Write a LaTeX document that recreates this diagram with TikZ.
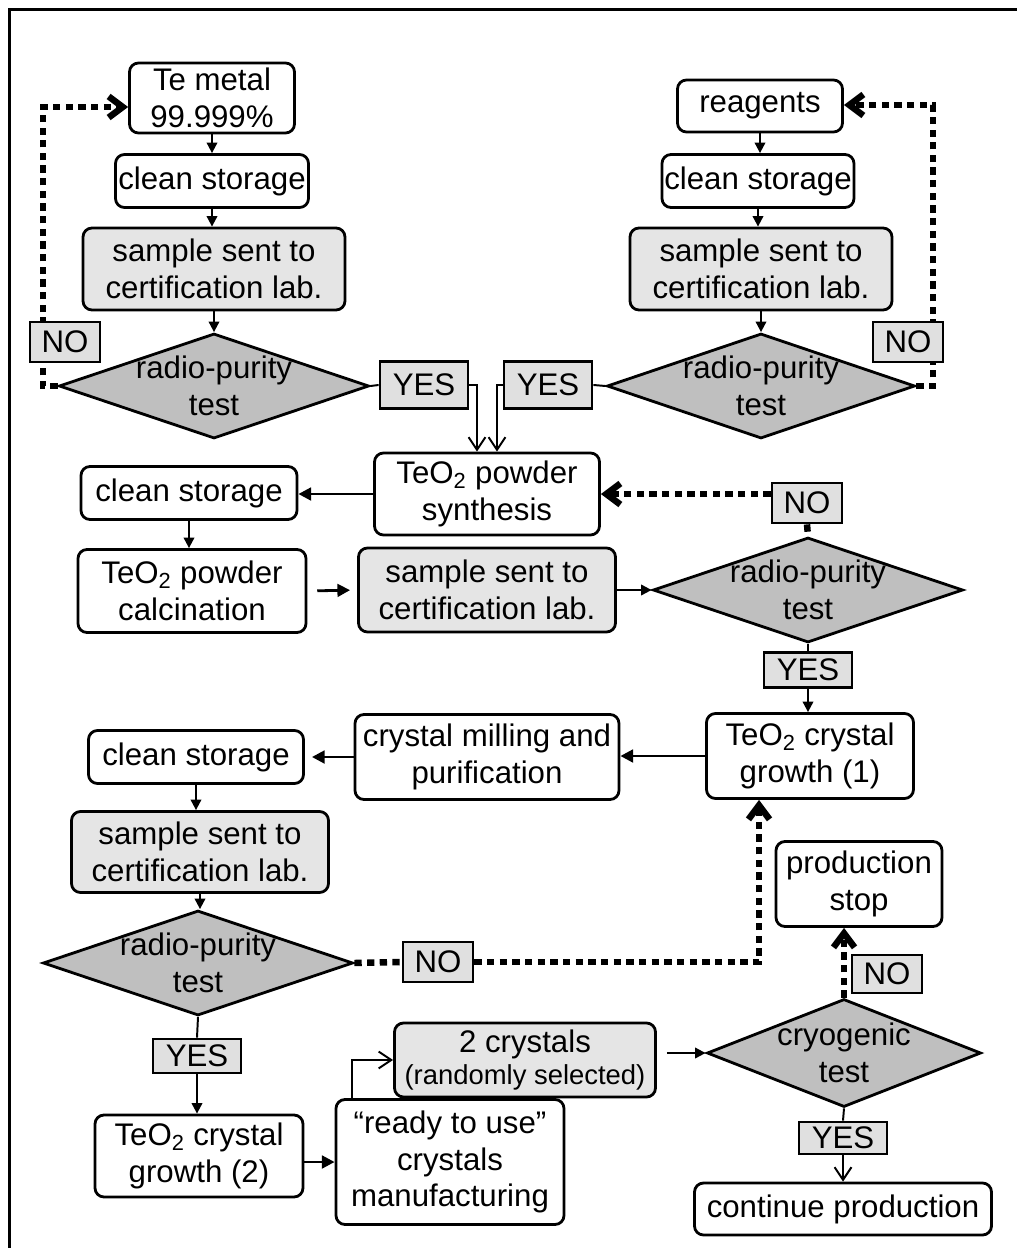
\documentclass[tikz,border=0pt]{standalone}
\usepackage{fontspec}
\setmainfont{Liberation Sans}
\usetikzlibrary{shapes.geometric,arrows.meta}
\pgfdeclarelayer{bg}
\pgfsetlayers{bg,main}
\newdimen\pxlen
\pxlen=0.025cm

\begin{document}
\begin{tikzpicture}[x=0.025cm,y=-0.025cm,font=\fontsize{22.2}{26.2}\selectfont]
    \tikzstyle{proc}=[draw,line width=2pt,rounded corners=9\pxlen,fill=white,align=center,inner sep=0pt]
    \tikzstyle{samp}=[proc,fill=black!10]
    \tikzstyle{check}=[diamond,draw,line width=2pt,fill=black!25,inner sep=0pt,minimum width=310\pxlen,minimum height=105\pxlen]
    \tikzstyle{tag}=[draw,line width=2pt,fill=black!12,inner sep=0pt,minimum width=88\pxlen,minimum height=40\pxlen]
    \tikzstyle{arr}=[line width=1.4pt,-{Triangle[length=7.5pt,width=7.5pt]}]
    \tikzstyle{bigarr}=[line width=2pt,-{Triangle[length=9pt,width=9pt]}]
    \tikzstyle{barb}=[line width=1.4pt,-{Straight Barb[length=9pt,width=12pt]}]
    \tikzstyle{dots}=[line width=4.6pt,dash pattern=on 5.2pt off 3.8pt]
    \tikzstyle{back}=[dots,-{Straight Barb[length=10pt,width=15pt]}]

    \useasboundingbox (0,0) rectangle (1017,1248);
    \draw[line width=2pt] (1040,9.5) -- (9.5,9.5) -- (9.5,1270);

    % Te metal column
    \node[proc,minimum width=165\pxlen,minimum height=70\pxlen] (T-1) at (212,98) {Te metal\\99.999\%};
    \node[proc,minimum width=193\pxlen,minimum height=53\pxlen] (T-2) at (212,181) {clean storage};
    \node[samp,minimum width=262\pxlen,minimum height=82\pxlen] (T-3) at (214,269) {sample sent to\\certification lab.};
    \node[check] (T-4) at (214,386) {};
    \node[align=center] (T-4t) at (T-4) {radio-purity\\test};

    % reagents column
    \node[proc,minimum width=165\pxlen,minimum height=52\pxlen] (R-1) at (760,106) {reagents};
    \node[proc,minimum width=192\pxlen,minimum height=53\pxlen] (R-2) at (758,181) {clean storage};
    \node[samp,minimum width=262\pxlen,minimum height=82\pxlen] (R-3) at (761,269) {sample sent to\\certification lab.};
    \node[check,minimum width=308\pxlen] (R-4) at (761,386) {};
    \node[align=center] (R-4t) at (R-4) {radio-purity\\test};

    % answers of the first tests
    \node[tag,minimum width=70\pxlen] (N-1) at (65,342) {NO};
    \node[tag,minimum width=70\pxlen] (N-2) at (908,342) {NO};
    \node[tag,minimum height=47\pxlen] (Y-1) at (424,385) {YES};
    \node[tag,minimum height=47\pxlen] (Y-2) at (548,385) {YES};

    % powder nodes
    \node[proc,minimum width=225\pxlen,minimum height=82\pxlen] (P-1) at (487,494) {TeO\textsubscript{2} powder\\synthesis};
    \node[proc,minimum width=216\pxlen,minimum height=53\pxlen] (P-2) at (189,493) {clean storage};
    \node[proc,minimum width=228\pxlen,minimum height=83\pxlen] (P-3) at (192,591) {TeO\textsubscript{2} powder\\calcination};
    \node[samp,minimum width=257\pxlen,minimum height=84\pxlen] (P-4) at (487,590) {sample sent to\\certification lab.};
    \node[check] (P-5) at (808,590) {};
    \node[align=center] (P-5t) at (P-5) {radio-purity\\test};
    \node[tag,minimum width=70\pxlen] (N-3) at (807,503) {NO};
    \node[tag,minimum height=35\pxlen] (Y-3) at (808,670) {YES};

    % crystal nodes
    \node[proc,minimum width=207\pxlen,minimum height=85\pxlen] (C-1) at (810,756) {TeO\textsubscript{2} crystal\\growth (1)};
    \node[proc,minimum width=264\pxlen,minimum height=85\pxlen] (C-2) at (487,757) {crystal milling and\\purification};
    \node[proc,minimum width=215\pxlen,minimum height=53\pxlen] (C-3) at (196,757) {clean storage};
    \node[samp,minimum width=257\pxlen,minimum height=81\pxlen] (C-4) at (200,852) {sample sent to\\certification lab.};
    \node[check] (C-5) at (198,963) {};
    \node[align=center] (C-5t) at (C-5) {radio-purity\\test};
    \node[tag,minimum width=70\pxlen] (N-4) at (438,962) {NO};
    \node[tag,minimum height=34\pxlen] (Y-4) at (197,1056) {YES};
    \node[proc,minimum width=208\pxlen,minimum height=82\pxlen] (C-6) at (199,1156) {TeO\textsubscript{2} crystal\\growth (2)};
    \node[proc,minimum width=228\pxlen,minimum height=125\pxlen] (C-7) at (450,1162) {“ready to use”\\crystals\\manufacturing};
    \node[samp,minimum width=261\pxlen,minimum height=74\pxlen] (C-8) at (525,1060) {2 crystals\\[-3pt]{\fontsize{19.5}{22}\selectfont(randomly selected)}};
    \node[check,minimum width=274\pxlen,minimum height=108\pxlen] (C-9) at (844,1053) {};
    \node[align=center] (C-9t) at (C-9) {cryogenic\\test};
    \node[proc,minimum width=166\pxlen,minimum height=85\pxlen] (C-10) at (859,884) {production\\stop};
    \node[tag,minimum width=70\pxlen,minimum height=38\pxlen] (N-5) at (887,974) {NO};
    \node[tag,minimum height=32\pxlen] (Y-5) at (843,1138) {YES};
    \node[proc,minimum width=297\pxlen,minimum height=52\pxlen] (C-11) at (843,1209) {continue production};

    \begin{pgfonlayer}{bg}
    % arrows down the columns
    \foreach \a/\b in {T-1/T-2,T-2/T-3,T-3/T-4,R-1/R-2,R-2/R-3,R-3/R-4,P-2/P-3,C-3/C-4,C-4/C-5}
    \draw[arr] (\a.south) -- (\a.south |- \b.north);

    % YES answers of the first tests
    \draw[line width=1.4pt] (T-4.east) -- (Y-1.west);
    \draw[line width=1.4pt] (R-4.west) -- (Y-2.east);
    \draw[barb] (Y-1.east) -| ([xshift=-10\pxlen]P-1.north);
    \draw[barb] (Y-2.west) -| ([xshift=10\pxlen]P-1.north);

    % NO answers back to the raw materials
    \coordinate (T-back) at (43,107);
    \coordinate (R-back) at (933,105);
    \draw[back] (T-4.west) -| (T-back) -- (T-1.west |- T-back);
    \draw[back] (R-4.east) -| (R-back) -- (R-1.east |- R-back);

    % powder synthesis and certification
    \draw[bigarr] (P-1.west) -- (P-1.west -| P-2.east);
    \draw[back] (N-3.west |- P-1.east) -- (P-1.east);
    \draw[dots] (N-3.south) -- (P-5.north);
    \draw[bigarr,shorten <=7pt,shorten >=5pt] (P-3.east) -- (P-4.west);
    \draw[arr] (P-4.east) -- (P-5.west);
    \draw[line width=1.4pt] (P-5.south) -- (Y-3.north);
    \draw[arr] (Y-3.south) -- (Y-3.south |- C-1.north);

    % crystal growth, milling and tests
    \draw[bigarr] (C-1.west) -- (C-1.west -| C-2.east);
    \draw[bigarr,shorten >=5pt] (C-2.west) -- (C-2.west -| C-3.east);
    \draw[dots] (C-5.east) -- (N-4.west);
    \draw[back] (N-4.east) -| ([xshift=-51\pxlen]C-1.south);
    \draw[line width=1.4pt] (C-5.south) -- (Y-4.north);
    \draw[arr] (Y-4.south) -- (Y-4.south |- C-6.north);
    \draw[bigarr] (C-6.east |- C-7.west) -- (C-7.west);
    \draw[barb] ([xshift=-98\pxlen]C-7.north) |- (C-8.west);
    \draw[arr,shorten <=7pt] (C-8.east |- C-9.west) -- (C-9.west);
    \draw[back] (C-9.north) -- (C-9.north |- C-10.south);
    \draw[line width=1.4pt] (C-9.south) -- (Y-5.north);
    \draw[barb] (Y-5.south) -- (Y-5.south |- C-11.north);
    \end{pgfonlayer}
\end{tikzpicture}
\end{document}
